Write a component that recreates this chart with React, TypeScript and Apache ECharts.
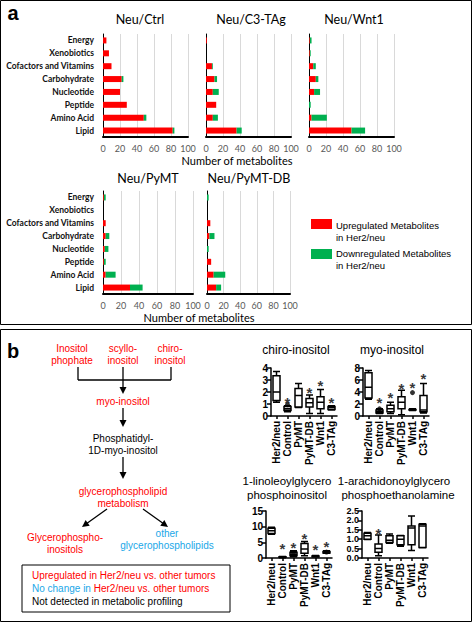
import React, { useEffect, useRef } from "react";
import * as echarts from "echarts";

const categories = ["Energy", "Xenobiotics", "Cofactors and Vitamins", "Carbohydrate", "Nucleotide", "Peptide", "Amino Acid", "Lipid"];
const ctrlUp = [4, 7, 10, 22, 20, 28, 48, 82];
const ctrlDown = [0, 0, 0, 2, 0, 0, 3, 2];
const c3Up = [1, 0, 7, 10, 8, 12, 8, 36];
const c3Down = [0, 0, 1, 3, 7, 0, 6, 6];
const wntUp = [1, 1, 5, 8, 6, 0, 3, 50];
const wntDown = [2, 1, 3, 3, 7, 2, 18, 16];
const pymtUp = [1, 0, 3, 3, 2, 1, 3, 30];
const pymtDown = [2, 0, 0, 4, 4, 2, 11, 14];
const pymtdbUp = [0, 0, 4, 3, 0, 5, 8, 11];
const pymtdbDown = [2, 0, 0, 6, 2, 0, 14, 6];
const xTicks = [0, 20, 40, 60, 80, 100];

const groups = ["Her2/neu", "Control", "PyMT", "PyMT-DB", "Wnt1", "C3-TAg"];
const chiroBox = [[1.15, 1.3, 2.0, 3.35, 3.7], [0.35, 0.45, 0.6, 0.8, 0.85], [0.7, 0.75, 1.7, 2.3, 2.7], [0.2, 0.75, 1.1, 1.45, 1.75], [0.2, 0.6, 1.15, 1.6, 2.2], [0.5, 0.55, 0.7, 0.8, 0.85]];
const chiroOut = [[1, 0.95]];
const chiroStars = [[1, 1.5], [3, 2.3], [4, 2.9], [5, 1.5]];
const myoBox = [[2.8, 3.0, 4.8, 7.2, 7.6], [0.4, 0.5, 0.7, 1.0, 1.2], [0.4, 0.7, 1.2, 1.8, 2.3], [0.2, 1.2, 2.3, 3.2, 4.3], [0.9, 1.0, 1.05, 1.1, 1.2], [0.5, 0.7, 1.0, 3.4, 5.4]];
const myoOut = [[1, 1.2], [4, 3.9]];
const myoStars = [[1, 2.9], [2, 3.7], [3, 5.2], [4, 5.4], [5, 6.9]];
const linoBox = [[7.6, 7.8, 8.7, 9.5, 9.8], [0.1, 0.2, 0.3, 0.4, 0.5], [0.4, 0.7, 1.2, 1.8, 2.3], [0.7, 1.5, 2.9, 4.6, 5.3], [0.3, 0.4, 0.5, 0.6, 0.8], [1.5, 1.6, 1.9, 2.1, 2.3]];
const linoOut = [[2, 1.3], [5, 1.9]];
const linoStars = [[1, 4.2], [2, 4.6], [3, 7.6], [4, 3.9], [5, 5.0]];
const arachBox = [[0.98, 1.0, 1.18, 1.32, 1.35], [0.12, 0.3, 0.51, 0.74, 1.23], [0.78, 0.83, 0.95, 1.18, 1.27], [0.62, 0.7, 1.0, 1.18, 1.2], [0.4, 0.7, 1.6, 1.7, 2.24], [0.55, 0.56, 1.7, 1.8, 1.82]];
const arachOut: number[][] = [];
const arachStars = [[1, 1.53]];

const RED = "#ff0000";
const GREEN = "#00b050";
const BLUE = "#1aa7e8";
const SANS = "Liberation Sans, Arial, sans-serif";
const CAL = "Lato, Liberation Sans, sans-serif";

export default function App() {
  const ref = useRef<HTMLDivElement>(null);
  useEffect(() => {
    if (!ref.current) return;
    const chart = echarts.init(ref.current, undefined, { renderer: "svg" });

    const barPanels = [
      { up: ctrlUp, down: ctrlDown, left: 103, width: 85, top: 34, labels: true },
      { up: c3Up, down: c3Down, left: 206, width: 85, top: 34, labels: false },
      { up: wntUp, down: wntDown, left: 309, width: 85, top: 34, labels: false },
      { up: pymtUp, down: pymtDown, left: 103, width: 90, top: 191, labels: true },
      { up: pymtdbUp, down: pymtdbDown, left: 207, width: 83, top: 191, labels: false },
    ];
    const boxPanels = [
      { box: chiroBox, out: chiroOut, stars: chiroStars, left: 271, top: 368, height: 48, max: 4, interval: 1, dec: 0, fs: 10 },
      { box: myoBox, out: myoOut, stars: myoStars, left: 363, top: 368, height: 48, max: 8, interval: 2, dec: 0, fs: 10 },
      { box: linoBox, out: linoOut, stars: linoStars, left: 266, top: 511, height: 47, max: 15, interval: 5, dec: 0, fs: 10 },
      { box: arachBox, out: arachOut, stars: arachStars, left: 362, top: 511, height: 47, max: 2.5, interval: 0.5, dec: 1, fs: 9 },
    ];

    const grid: any[] = [];
    const xAxis: any[] = [];
    const yAxis: any[] = [];
    const series: any[] = [];

    barPanels.forEach((p, i) => {
      grid.push({ left: p.left, top: p.top, width: p.width, height: 103 });
      xAxis.push({
        type: "value", gridIndex: i, min: xTicks[0], max: xTicks[xTicks.length - 1], interval: 20,
        axisLine: { show: true, onZero: false, lineStyle: { color: "#000", width: 2 } },
        axisTick: { show: false },
        axisLabel: { fontSize: 9, color: "#595959", fontFamily: CAL, margin: 7 },
        splitLine: { show: true, lineStyle: { color: "#d9d9d9", width: 1 } },
      });
      yAxis.push({
        type: "category", gridIndex: i, data: categories, inverse: true,
        axisLine: { show: true, lineStyle: { color: "#000", width: 1 } },
        axisTick: { show: false },
        axisLabel: { show: p.labels, fontSize: 8.5, fontWeight: "bold", color: "#111", fontFamily: CAL, margin: 9 },
      });
      series.push({
        type: "bar", name: "Upregulated", stack: "s" + i, xAxisIndex: i, yAxisIndex: i,
        data: p.up, barWidth: 6, itemStyle: { color: RED },
      });
      series.push({
        type: "bar", name: "Downregulated", stack: "s" + i, xAxisIndex: i, yAxisIndex: i,
        data: p.down, barWidth: 6, itemStyle: { color: GREEN },
      });
    });

    boxPanels.forEach((p, j) => {
      const gi = barPanels.length + j;
      grid.push({ left: p.left, top: p.top, width: 66, height: p.height });
      xAxis.push({
        type: "category", gridIndex: gi, data: groups, boundaryGap: true,
        axisLine: { show: true, lineStyle: { color: "#000", width: 1.5 } },
        axisTick: { show: true, alignWithLabel: true, length: 3, lineStyle: { color: "#000", width: 1.5 } },
        axisLabel: { rotate: 90, fontSize: 10, fontWeight: "bold", color: "#000", fontFamily: SANS, margin: 5, interval: 0 },
        splitLine: { show: false },
      });
      yAxis.push({
        type: "value", gridIndex: gi, min: 0, max: p.max, interval: p.interval,
        axisLine: { show: true, lineStyle: { color: "#000", width: 1.5 } },
        axisTick: { show: true, length: 4, lineStyle: { color: "#000", width: 1.5 } },
        axisLabel: { fontSize: p.fs, lineHeight: p.fs, fontWeight: "bold", color: "#000", fontFamily: SANS, margin: 3,
          formatter: (v: number) => v.toFixed(p.dec) },
        splitLine: { show: false },
      });
      series.push({
        type: "boxplot", xAxisIndex: gi, yAxisIndex: gi, data: p.box, boxWidth: [7, 8],
        itemStyle: { color: "#fff", borderColor: "#000", borderWidth: 1.5 },
      });
      series.push({
        type: "scatter", xAxisIndex: gi, yAxisIndex: gi, data: p.out, symbolSize: 5,
        itemStyle: { color: "#000" }, z: 5,
      });
      series.push({
        type: "scatter", xAxisIndex: gi, yAxisIndex: gi, data: p.stars, symbolSize: 1,
        itemStyle: { color: "rgba(0,0,0,0)" },
        label: { show: true, formatter: "*", position: "inside", offset: [0, 4], fontSize: 15, fontWeight: "bold", color: "#000", fontFamily: SANS },
        z: 6,
      });
    });

    const t = (text: string, x: number, y: number, opts: any = {}) => ({
      type: "text", x, y, z: 10,
      style: {
        text, fontSize: opts.size || 10, fontFamily: opts.font || SANS, fontWeight: opts.weight || "normal",
        fill: opts.fill || "#000", align: opts.align || "center", verticalAlign: "middle",
        rich: opts.rich,
      },
    });
    const ln = (x1: number, y1: number, x2: number, y2: number) => ({
      type: "line", z: 10, shape: { x1, y1, x2, y2 }, style: { stroke: "#000", lineWidth: 1.3 },
    });
    const head = (x: number, y: number, dx: number, dy: number) => {
      const len = Math.hypot(dx, dy);
      const ux = dx / len, uy = dy / len;
      const L = 7, W = 3.5;
      const bx = x - ux * L, by = y - uy * L;
      return {
        type: "polygon", z: 10,
        shape: { points: [[x, y], [bx - uy * W, by + ux * W], [bx + uy * W, by - ux * W]] },
        style: { fill: "#000" },
      };
    };

    const graphic: any[] = [
      { type: "rect", z: 10, shape: { x: 0.5, y: 0.5, width: 471, height: 324 }, style: { fill: "none", stroke: "#000", lineWidth: 1 } },
      { type: "rect", z: 10, shape: { x: 0.5, y: 329.5, width: 471, height: 292 }, style: { fill: "none", stroke: "#000", lineWidth: 1 } },
      t("a", 13, 13, { size: 20, weight: "bold" }),
      t("b", 13, 351, { size: 20, weight: "bold" }),
      t("Neu/Ctrl", 140, 19, { size: 12.5, font: CAL }),
      t("Neu/C3-TAg", 251, 19, { size: 12.5, font: CAL }),
      t("Neu/Wnt1", 354, 19, { size: 12.5, font: CAL }),
      t("Neu/PyMT", 148, 178, { size: 12.5, font: CAL }),
      t("Neu/PyMT-DB", 249, 178, { size: 12.5, font: CAL }),
      t("Number of metabolites", 237, 160, { size: 11, font: CAL }),
      t("Number of metabolites", 199, 317, { size: 11, font: CAL }),
      { type: "rect", z: 10, shape: { x: 311, y: 219, width: 21, height: 10 }, style: { fill: RED } },
      t("Upregulated Metabolites", 336, 225, { size: 9.5, align: "left" }),
      t("in Her2/neu", 336, 237, { size: 9.5, align: "left" }),
      { type: "rect", z: 10, shape: { x: 311, y: 249, width: 21, height: 10 }, style: { fill: GREEN } },
      t("Downregulated Metabolites", 336, 253, { size: 9.5, align: "left" }),
      t("in Her2/neu", 336, 265, { size: 9.5, align: "left" }),
      // pathway
      t("Inositol", 72, 348, { fill: RED }),
      t("phophate", 72, 360, { fill: RED }),
      t("scyllo-", 123, 348, { fill: RED }),
      t("inositol", 123, 360, { fill: RED }),
      t("chiro-", 170, 348, { fill: RED }),
      t("inositol", 170, 360, { fill: RED }),
      ln(78, 367, 78, 380), ln(171, 367, 171, 380), ln(78, 380, 171, 380),
      ln(123, 367, 123, 389), head(123, 394, 0, 1),
      t("myo-inositol", 123, 401, { fill: RED }),
      ln(123, 408, 123, 422), head(123, 427, 0, 1),
      t("Phosphatidyl-", 123, 438),
      t("1D-myo-inositol", 123, 450),
      ln(123, 457, 123, 474), head(123, 479, 0, 1),
      t("glycerophospholipid", 123, 491, { fill: RED }),
      t("metabolism", 123, 503, { fill: RED }),
      ln(107, 509, 86, 524), head(82, 527, -25, 18),
      ln(143, 509, 164, 524), head(168, 527, 25, 18),
      t("Glycerophospho-", 65, 537, { fill: RED }),
      t("inositols", 65, 549, { fill: RED }),
      t("other", 167, 533, { fill: BLUE }),
      t("glycerophospholipids", 167, 545, { fill: BLUE }),
      { type: "rect", z: 10, shape: { x: 22, y: 565, width: 208, height: 47 }, style: { fill: "none", stroke: "#000", lineWidth: 1 } },
      t("Upregulated in Her2/neu vs. other tumors", 32, 575, { fill: RED, align: "left" }),
      t("{b|No change in }{r|Her2/neu vs. other tumors}", 32, 588, {
        align: "left",
        rich: {
          b: { fill: BLUE, fontSize: 10, fontFamily: SANS },
          r: { fill: RED, fontSize: 10, fontFamily: SANS },
        },
      }),
      t("Not detected in metabolic profiling", 32, 601, { align: "left" }),
      // boxplot titles
      t("chiro-inositol", 296, 350, { size: 12 }),
      t("myo-inositol", 392, 350, { size: 12 }),
      t("1-linoleoylglycero", 287, 481, { size: 11.5 }),
      t("phosphoinositol", 287, 495, { size: 11.5 }),
      t("1-arachidonoylglycero", 394, 481, { size: 11.5 }),
      t("phosphoethanolamine", 398, 495, { size: 11.5 }),
    ];

    chart.setOption({
      animation: false,
      backgroundColor: "#fff",
      grid, xAxis, yAxis, series, graphic,
    });
    return () => chart.dispose();
  }, []);
  return <div ref={ref} style={{ position: "fixed", left: 0, top: 0, width: 473, height: 624 }} />;
}
